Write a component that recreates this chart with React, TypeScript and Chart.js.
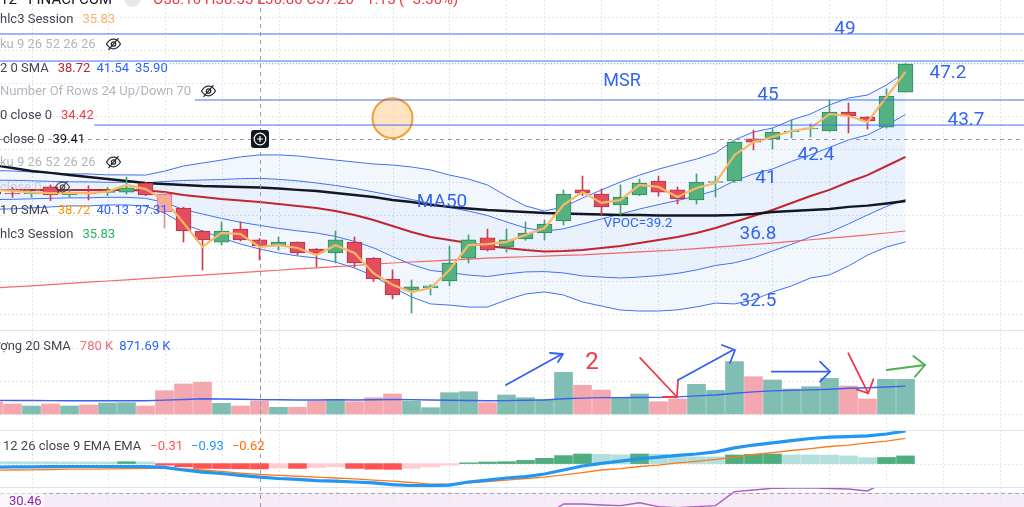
import React, { useEffect, useRef } from "react";
import { Chart, registerables } from "chart.js";

Chart.register(...registerables);

// ---------------- data (index -1 .. 47) ----------------
const firstIndex = -1;
const opens = [39.4, 39.35, 39.3, 39.73, 39.24, 39.42, 39.4, 39.42, 39.97, 39.3, 38.45, 37.06, 36.39, 37.18, 36.52, 36.15, 36.39, 35.97, 35.73, 36.39, 35.42, 34.15, 33.48, 33.61, 34.03, 35.42, 36.64, 36.09, 36.58, 36.94, 37.67, 39.55, 39.3, 38.64, 39.24, 40.09, 39.55, 38.94, 40.0, 40.09, 42.64, 42.64, 43.06, 43.24, 43.12, 44.27, 43.97, 43.36, 45.48];
const highs = [39.6, 39.7, 39.5, 39.85, 39.6, 39.8, 39.7, 40.33, 40.0, 39.4, 38.5, 37.1, 37.61, 37.61, 36.6, 36.7, 36.4, 36.0, 37.06, 36.7, 35.45, 34.7, 34.09, 33.8, 36.15, 36.82, 37.18, 37.18, 37.61, 37.73, 39.55, 40.39, 39.61, 39.85, 40.21, 40.39, 39.73, 40.52, 40.39, 42.5, 43.18, 43.3, 43.79, 43.55, 45.0, 44.82, 44.0, 45.67, 47.24];
const lows = [39.2, 39.1, 39.1, 38.9, 39.1, 38.94, 39.2, 39.3, 39.2, 37.24, 36.39, 34.7, 36.21, 36.45, 35.3, 35.9, 35.61, 34.88, 35.12, 34.88, 34.0, 32.94, 32.09, 33.18, 33.73, 35.12, 35.85, 35.79, 36.5, 36.52, 37.42, 39.2, 38.03, 38.03, 39.2, 39.18, 38.7, 38.7, 39.12, 40.0, 41.97, 42.03, 42.7, 42.76, 43.1, 43.0, 43.24, 43.3, 45.48];
const closes = [39.3, 39.3, 39.35, 39.24, 39.42, 39.3, 39.5, 39.67, 39.24, 38.21, 37.06, 36.52, 37.06, 36.52, 36.15, 36.39, 35.73, 35.73, 36.52, 35.12, 34.15, 33.18, 33.67, 33.73, 35.12, 36.52, 35.91, 36.52, 36.94, 37.48, 39.3, 39.36, 38.52, 39.12, 39.97, 39.42, 39.0, 40.03, 40.05, 42.45, 42.45, 43.06, 43.12, 43.3, 44.27, 44.03, 43.73, 45.24, 47.18];

const fastAverage = [39.55, 39.5, 39.4, 39.35, 39.35, 39.35, 39.45, 39.85, 39.6, 38.94, 37.55, 36.1, 36.94, 36.88, 36.1, 36.2, 36.03, 35.6, 36.2, 35.73, 34.5, 33.8, 33.36, 33.6, 34.7, 36.2, 36.27, 36.4, 36.82, 37.24, 38.64, 39.42, 38.76, 38.94, 39.85, 39.73, 39.12, 39.67, 39.97, 41.67, 42.45, 42.76, 43.12, 43.3, 44.15, 44.03, 43.67, 45.18, 46.7];
const ma50 = [41.05, 40.88, 40.7, 40.58, 40.45, 40.33, 40.21, 40.09, 39.97, 39.91, 39.85, 39.79, 39.76, 39.73, 39.7, 39.64, 39.55, 39.48, 39.36, 39.24, 39.12, 38.94, 38.82, 38.64, 38.52, 38.42, 38.33, 38.27, 38.21, 38.15, 38.12, 38.09, 38.06, 38.03, 38.03, 38.0, 38.0, 38.0, 38.0, 38.03, 38.09, 38.21, 38.27, 38.33, 38.39, 38.52, 38.6, 38.73, 38.88];
const bbBasis = [39.55, 39.55, 39.55, 39.55, 39.55, 39.55, 39.55, 39.55, 39.51, 39.42, 39.24, 39.12, 39.0, 38.91, 38.82, 38.7, 38.58, 38.45, 38.27, 38.03, 37.73, 37.36, 37.0, 36.7, 36.51, 36.33, 36.15, 36.03, 35.91, 35.82, 35.85, 35.91, 36.03, 36.15, 36.33, 36.51, 36.7, 36.94, 37.24, 37.61, 37.97, 38.33, 38.76, 39.18, 39.55, 40.03, 40.45, 41.0, 41.55];
const bbUpper2 = [40.72, 40.7, 40.64, 40.58, 40.52, 40.52, 40.46, 40.46, 40.45, 40.69, 41.0, 41.18, 41.36, 41.55, 41.67, 41.67, 41.61, 41.48, 41.36, 41.24, 41.12, 41.06, 40.94, 40.76, 40.45, 40.21, 39.85, 39.18, 38.58, 38.27, 38.52, 39.06, 39.55, 40.03, 40.45, 40.81, 41.12, 41.42, 41.79, 42.58, 43.06, 43.3, 43.79, 44.15, 44.7, 45.12, 45.3, 45.91, 46.7];
const bbUpper1 = [40.14, 40.13, 40.1, 40.07, 40.04, 40.04, 40.01, 40.01, 39.98, 40.06, 40.12, 40.15, 40.18, 40.23, 40.25, 40.19, 40.1, 39.97, 39.82, 39.64, 39.43, 39.21, 38.97, 38.73, 38.48, 38.27, 38.0, 37.61, 37.25, 37.05, 37.19, 37.49, 37.79, 38.09, 38.39, 38.66, 38.91, 39.18, 39.52, 40.1, 40.52, 40.82, 41.28, 41.67, 42.13, 42.58, 42.88, 43.46, 44.13];
const bbLower1 = [38.96, 38.98, 39.01, 39.04, 39.07, 39.07, 39.1, 39.1, 39.04, 38.79, 38.36, 38.09, 37.82, 37.59, 37.4, 37.22, 37.07, 36.94, 36.73, 36.43, 36.04, 35.51, 35.03, 34.67, 34.54, 34.39, 34.3, 34.46, 34.58, 34.6, 34.52, 34.34, 34.27, 34.21, 34.27, 34.36, 34.49, 34.7, 34.97, 35.13, 35.43, 35.85, 36.25, 36.7, 36.98, 37.49, 38.03, 38.55, 38.98];
const bbLower2 = [38.38, 38.4, 38.46, 38.52, 38.58, 38.58, 38.64, 38.64, 38.57, 38.15, 37.48, 37.06, 36.64, 36.27, 35.97, 35.73, 35.55, 35.42, 35.18, 34.82, 34.34, 33.66, 33.06, 32.64, 32.57, 32.45, 32.45, 32.88, 33.24, 33.37, 33.18, 32.76, 32.51, 32.27, 32.21, 32.21, 32.28, 32.46, 32.69, 32.64, 32.88, 33.36, 33.73, 34.21, 34.4, 34.94, 35.6, 36.09, 36.4];
const ma200 = [33.6, 33.67, 33.74, 33.81, 33.88, 33.96, 34.03, 34.1, 34.17, 34.25, 34.32, 34.39, 34.46, 34.54, 34.61, 34.68, 34.76, 34.83, 34.9, 34.97, 35.05, 35.12, 35.18, 35.24, 35.3, 35.36, 35.42, 35.46, 35.5, 35.54, 35.58, 35.61, 35.67, 35.73, 35.79, 35.85, 35.91, 35.99, 36.08, 36.16, 36.25, 36.33, 36.43, 36.53, 36.63, 36.72, 36.82, 36.94, 37.06];

const volumes = [745, 606, 485, 606, 485, 545, 667, 685, 485, 1412, 1818, 1921, 648, 485, 788, 406, 406, 788, 891, 745, 988, 1212, 788, 382, 1291, 1351, 685, 1151, 988, 891, 2527, 1739, 1454, 1012, 1212, 745, 909, 1800, 1436, 3169, 2260, 2060, 1515, 1654, 2163, 1697, 909, 2103, 2103];
const volumeSma = [825, 820, 815, 810, 805, 800, 800, 805, 800, 840, 880, 920, 910, 890, 872, 860, 850, 850, 860, 850, 860, 880, 870, 850, 830, 820, 800, 810, 830, 850, 920, 960, 990, 990, 1000, 1010, 1040, 1100, 1150, 1260, 1340, 1400, 1430, 1460, 1500, 1560, 1590, 1640, 1690];

const macdLine = [-0.22, -0.21, -0.2, -0.19, -0.18, -0.18, -0.18, -0.18, -0.19, -0.24, -0.4, -0.53, -0.62, -0.74, -0.84, -0.93, -0.99, -1.06, -1.09, -1.15, -1.21, -1.31, -1.37, -1.38, -1.34, -1.15, -1.03, -0.9, -0.81, -0.65, -0.4, -0.15, 0.01, 0.16, 0.29, 0.41, 0.51, 0.6, 0.73, 0.98, 1.16, 1.29, 1.44, 1.57, 1.66, 1.69, 1.73, 1.85, 2.04];
const signalLine = [-0.41, -0.4, -0.39, -0.37, -0.35, -0.34, -0.33, -0.31, -0.3, -0.29, -0.33, -0.4, -0.49, -0.59, -0.68, -0.74, -0.79, -0.84, -0.9, -0.96, -1.03, -1.09, -1.18, -1.28, -1.29, -1.21, -1.12, -1.03, -0.93, -0.84, -0.71, -0.56, -0.4, -0.31, -0.18, -0.09, 0.04, 0.14, 0.26, 0.41, 0.57, 0.69, 0.82, 0.94, 1.07, 1.16, 1.29, 1.41, 1.58];
const macdHist = [0.12, 0.12, 0.11, 0.11, 0.1, 0.1, 0.1, 0.12, 0.1, -0.1, -0.2, -0.3, -0.31, -0.32, -0.33, -0.28, -0.3, -0.25, -0.2, -0.3, -0.35, -0.36, -0.3, -0.2, -0.1, 0.05, 0.1, 0.12, 0.2, 0.33, 0.5, 0.6, 0.58, 0.55, 0.6, 0.59, 0.43, 0.43, 0.42, 0.54, 0.58, 0.6, 0.54, 0.54, 0.53, 0.48, 0.37, 0.38, 0.48];
const rsiValues = [48, 47, 48, 46, 47, 46, 48, 50, 44, 36, 31, 27, 33, 31, 30.46, 32, 30, 29, 34, 30, 27, 24, 27, 28, 38, 46, 43, 47, 50, 53, 61.8, 61.8, 61.1, 60.6, 62.7, 59.9, 59.2, 59.9, 60.6, 70.6, 71.8, 73.0, 73.2, 73.4, 72.9, 72.5, 71.1, 78, 82];

const priceLevels = [49, 47.36, 45, 43.48];
const priceLevelStarts = [-0.7, -0.7, 9.6, 4.3];
const lastPrice = 47.2;
const lastPriceStart = 8.3;
const crosshairIndex = 13;
const crosshairPrice = 42.64;
const circleMark = { x: 20, y: 43.9 };
const fadedCandle = 8;
const priceGrid = [32, 34, 36, 38, 40, 42, 44, 46, 48, 50];
const volumeGrid = [0, 2000, 4000];
const macdGrid = [0];
const timeGrid = [1, 5, 8, 11, 14, 17, 20, 23, 26, 28, 31, 34, 37, 40, 43, 46, 49, 52];
const rsiBand = [30, 70];

// hand-drawn arrows on the volume pane, in (bar index, volume K)
const volumeArrows = [
  { color: "#3461ee", shaft: [[25.97, 1757], [28.92, 3636]], head: [[28.29, 3697], [28.97, 3636], [28.71, 3151]] },
  { color: "#ee3a4b", shaft: [[33.03, 3394], [34.97, 1030]], head: [[34.24, 1030], [34.97, 1030], [35.03, 2060]] },
  { color: "#3461ee", shaft: [[35.03, 2060], [37.92, 3878]], head: [[37.34, 4181], [38.03, 3878], [37.76, 3091]] },
  { color: "#3461ee", shaft: [[39.96, 2563], [43.03, 2563]], head: [[42.5, 3169], [43.03, 2563], [42.5, 1957]] },
  { color: "#ee3a4b", shaft: [[43.99, 3678], [45.04, 1254]], head: [[44.43, 1497], [45.04, 1254], [45.31, 2103]] },
  { color: "#4caf50", shaft: [[46.01, 2666], [48.03, 2969]], head: [[47.41, 3515], [48.03, 2969], [47.5, 2260]] },
];

// ---------------- helpers ----------------
const X_MIN = -0.658;
const X_MAX = 53.237;
const xy = (arr: number[]) => arr.map((v, k) => ({ x: k + firstIndex, y: v }));
const isUp = (k: number) => closes[k] >= opens[k];
const BLUE = "#4170f2";

const decorPlugin: any = {
  id: "decor",
  beforeDatasetsDraw(chart: any, _a: any, o: any) {
    const { ctx, chartArea: a, scales } = chart;
    const x = scales.x, y = scales.y;
    ctx.save();
    if (o.band) {
      const y1 = y.getPixelForValue(o.band[1]);
      const y2 = y.getPixelForValue(o.band[0]);
      ctx.fillStyle = o.bandColor;
      ctx.fillRect(a.left, y1, a.right - a.left, y2 - y1);
    }
    ctx.strokeStyle = "#e3e5e9";
    ctx.lineWidth = 1;
    ctx.setLineDash([2, 2]);
    for (const v of o.gridX || []) {
      const px = Math.round(x.getPixelForValue(v)) + 0.5;
      ctx.beginPath(); ctx.moveTo(px, a.top); ctx.lineTo(px, a.bottom); ctx.stroke();
    }
    for (const v of o.gridY || []) {
      const py = Math.round(y.getPixelForValue(v)) + 0.5;
      ctx.beginPath(); ctx.moveTo(a.left, py); ctx.lineTo(a.right, py); ctx.stroke();
    }
    ctx.restore();
  },
  afterDatasetsDraw(chart: any, _a: any, o: any) {
    const { ctx, chartArea: a, scales } = chart;
    const x = scales.x, y = scales.y;
    ctx.save();
    if (o.dashY != null) {
      const py = Math.round(y.getPixelForValue(o.dashY)) + 0.5;
      ctx.strokeStyle = "#a3a6ae"; ctx.setLineDash([4, 3]); ctx.lineWidth = 1;
      ctx.beginPath(); ctx.moveTo(a.left, py); ctx.lineTo(a.right, py); ctx.stroke();
    }
    for (const ar of o.arrows || []) {
      ctx.strokeStyle = ar.color; ctx.lineWidth = 1.8; ctx.setLineDash([]);
      ctx.lineCap = "round"; ctx.lineJoin = "round";
      for (const pts of [ar.shaft, ar.head]) {
        ctx.beginPath();
        pts.forEach((p: number[], i: number) => {
          const px = x.getPixelForValue(p[0]), py = y.getPixelForValue(p[1]);
          if (i === 0) ctx.moveTo(px, py); else ctx.lineTo(px, py);
        });
        ctx.stroke();
      }
    }
    ctx.strokeStyle = "#9598a1"; ctx.lineWidth = 1; ctx.setLineDash([4, 4]);
    if (o.crossX != null) {
      const px = Math.round(x.getPixelForValue(o.crossX)) + 0.5;
      ctx.beginPath(); ctx.moveTo(px, a.top); ctx.lineTo(px, a.bottom); ctx.stroke();
    }
    if (o.crossY != null) {
      const py = Math.round(y.getPixelForValue(o.crossY)) + 0.5;
      ctx.beginPath(); ctx.moveTo(a.left, py); ctx.lineTo(a.right, py); ctx.stroke();
    }
    ctx.restore();
  },
};

function baseOptions(yMin: number, yMax: number, decor: any): any {
  return {
    animation: false,
    responsive: true,
    maintainAspectRatio: false,
    events: [],
    layout: { padding: 0, autoPadding: false },
    elements: { point: { radius: 0, hoverRadius: 0 }, line: { tension: 0 } },
    plugins: { legend: { display: false }, tooltip: { enabled: false }, decor },
    scales: {
      x: { type: "linear", min: X_MIN, max: X_MAX, display: false, offset: false, grid: { offset: false } },
      y: { type: "linear", min: yMin, max: yMax, display: false, offset: false, grace: 0 },
    },
  };
}

function lineDs(data: number[], color: string, width: number, order: number, extra: any = {}) {
  return { type: "line", data: xy(data), borderColor: color, borderWidth: width, pointRadius: 0, order, ...extra };
}

const EyeOff = ({ ml = 9, color = "#2a2e39", opacity = 1 }: any) => (
  <svg width="17" height="14" viewBox="0 0 17 14" style={{ marginLeft: ml, opacity }}>
    <path d="M1.5 7c2-3.3 4.3-4.8 7-4.8s5 1.5 7 4.8c-2 3.3-4.3 4.8-7 4.8S3.5 10.3 1.5 7z" fill="none" stroke={color} strokeWidth="1.3" />
    <circle cx="8.5" cy="7" r="2.2" fill="none" stroke={color} strokeWidth="1.3" />
    <path d="M3.5 12.8L13.5 1.2" stroke={color} strokeWidth="1.3" />
  </svg>
);

const Row = ({ y, left = 0, children }: any) => (
  <div style={{ position: "absolute", left, top: y - 9, height: 18, display: "flex", alignItems: "center", fontSize: 13, whiteSpace: "nowrap", lineHeight: "18px" }}>{children}</div>
);
const S = ({ c, ml = 0, children }: any) => <span style={{ color: c, marginLeft: ml }}>{children}</span>;
const Note = ({ x, y, size = 19, color = "#3565f0", children }: any) => (
  <div style={{ position: "absolute", left: x, top: y, transform: "translate(-50%, -50%)", fontSize: size, lineHeight: 1, color, whiteSpace: "nowrap" }}>{children}</div>
);

const DARK = "#434651";
const FADED = "#b2b5be";

export default function App() {
  const mainRef = useRef<HTMLCanvasElement>(null);
  const volRef = useRef<HTMLCanvasElement>(null);
  const macdRef = useRef<HTMLCanvasElement>(null);
  const rsiRef = useRef<HTMLCanvasElement>(null);

  useEffect(() => {
    const bodyColors = opens.map((_, k) => (k + firstIndex === fadedCandle ? "#f3a8b1" : isUp(k) ? "#54b280" : "#e34d5e"));
    const bodyBorders = opens.map((_, k) => (k + firstIndex === fadedCandle ? "#d9707d" : isUp(k) ? "#2f8b59" : "#b9323f"));
    const wickColors = opens.map((_, k) => (k + firstIndex === fadedCandle ? "#e4919b" : isUp(k) ? "#47a06f" : "#cc3e4e"));
    const bodies = opens.map((o, k) => ({ x: k + firstIndex, y: [o, closes[k]] }));
    const wicks = lows.map((l, k) => ({ x: k + firstIndex, y: [l, highs[k]] }));

    const mainDatasets: any[] = [
      ...priceLevels.map((v, k) => ({
        type: "line", data: [{ x: priceLevelStarts[k], y: v }, { x: X_MAX + 1, y: v }],
        borderColor: BLUE, borderWidth: 1, pointRadius: 0, order: 0,
      })),
      { type: "line", data: [{ x: lastPriceStart, y: lastPrice }, { x: X_MAX + 1, y: lastPrice }], borderColor: "#43b077", borderDash: [1, 2], borderWidth: 1, pointRadius: 0, order: 0 },
      { type: "line", data: [circleMark], showLine: false, pointRadius: 20, pointBackgroundColor: "rgba(252,196,122,0.45)", pointBorderColor: "#f59d2e", pointBorderWidth: 2, order: 0 },
      lineDs(fastAverage, "#f8b866", 2.2, 1),
      { type: "bar", data: bodies, backgroundColor: bodyColors, borderColor: bodyBorders, borderWidth: 1, borderSkipped: false, barThickness: 15, grouped: false, order: 2 },
      { type: "bar", data: wicks, backgroundColor: wickColors, barThickness: 1, grouped: false, order: 3 },
      lineDs(ma50, "#131722", 2.4, 4),
      lineDs(bbBasis, "#c0262e", 2, 5),
      lineDs(ma200, "rgba(242,80,80,0.85)", 1.2, 6),
      lineDs(bbUpper2, BLUE, 1, 7, { fill: { target: "+3", above: "rgba(70,145,235,0.07)", below: "rgba(70,145,235,0.07)" } }),
      lineDs(bbUpper1, BLUE, 1, 7, { fill: { target: "+1", above: "rgba(70,145,235,0.05)", below: "rgba(70,145,235,0.05)" } }),
      lineDs(bbLower1, BLUE, 1, 7),
      lineDs(bbLower2, BLUE, 1, 7),
    ];

    const main = new Chart(mainRef.current!, {
      type: "bar",
      data: { datasets: mainDatasets },
      options: baseOptions(31.06, 51.06, { gridX: timeGrid, gridY: priceGrid, crossX: crosshairIndex, crossY: crosshairPrice }),
      plugins: [decorPlugin],
    } as any);

    const volColors = volumes.map((_, k) => (isUp(k) ? "#80bdb3" : "#f4a7ae"));
    const vol = new Chart(volRef.current!, {
      type: "bar",
      data: {
        datasets: [
          lineDs(volumeSma, "#3a62ee", 1.4, 0),
          { type: "bar", data: xy(volumes), backgroundColor: volColors, barThickness: 18, grouped: false, order: 1 },
        ] as any,
      },
      options: baseOptions(-970, 5090, { gridX: timeGrid, gridY: volumeGrid, crossX: crosshairIndex, arrows: volumeArrows }),
      plugins: [decorPlugin],
    } as any);

    const histColors = macdHist.map((v, k) => {
      const prev = k > 0 ? macdHist[k - 1] : v;
      if (v >= 0) return v > prev ? "#4fae7f" : "#b2dfdb";
      return v < prev ? "#ff5252" : "#ffcdd2";
    });
    const macd = new Chart(macdRef.current!, {
      type: "bar",
      data: {
        datasets: [
          lineDs(macdLine, "#2196f3", 3.2, 0),
          lineDs(signalLine, "#ff7a1a", 1.3, 1),
          { type: "bar", data: xy(macdHist), backgroundColor: histColors, barThickness: 18, grouped: false, order: 2 },
        ] as any,
      },
      options: baseOptions(-1.4625, 2.1, { gridX: timeGrid, gridY: macdGrid, crossX: crosshairIndex }),
      plugins: [decorPlugin],
    } as any);

    const rsi = new Chart(rsiRef.current!, {
      type: "line",
      data: { datasets: [lineDs(rsiValues, "#ab5cc5", 1.4, 0)] as any },
      options: baseOptions(2.5, 73.93, { gridX: timeGrid, band: rsiBand, bandColor: "rgba(156,39,176,0.09)", dashY: rsiBand[1], crossX: crosshairIndex }),
      plugins: [decorPlugin],
    } as any);

    return () => { main.destroy(); vol.destroy(); macd.destroy(); rsi.destroy(); };
  }, []);

  const pane = (top: number, h: number): React.CSSProperties => ({ position: "absolute", left: 0, top, width: 1024, height: h });
  const sep = (top: number): React.CSSProperties => ({ position: "absolute", left: 0, top, width: 1024, height: 1, background: "#e0e3eb" });

  return (
    <div style={{ position: "fixed", left: 0, top: 0, width: 1024, height: 507, overflow: "hidden", background: "#fff", fontFamily: "Roboto, 'Noto Sans', sans-serif" }}>
      <div style={pane(0, 330)}><canvas ref={mainRef} /></div>
      <div style={pane(330, 100)}><canvas ref={volRef} /></div>
      <div style={pane(430, 57)}><canvas ref={macdRef} /></div>
      <div style={pane(487, 100)}><canvas ref={rsiRef} /></div>
      <div style={sep(330)} />
      <div style={sep(430)} />
      <div style={sep(487)} />

      {/* top title (cut off) */}
      <div style={{ position: "absolute", left: 0, top: -10, fontSize: 15, lineHeight: "16px", whiteSpace: "nowrap", display: "flex", alignItems: "center" }}>
        <span style={{ color: "#131722" }}>12 · FINACI·COM</span>
        <span style={{ display: "inline-block", width: 17, height: 17, borderRadius: 9, background: "#e6e8ec", marginLeft: 12 }} />
        <span style={{ color: "#f23645", marginLeft: 12 }}>O38.10 H38.55 L36.80 C37.20 −1.15 (−3.36%)</span>
      </div>

      {/* main pane legend */}
      <Row y={19}><S c={DARK}>hlc3 Session</S><S c="#f6b26b" ml={9}>35.83</S></Row>
      <Row y={44}><S c={FADED}>ku 9 26 52 26 26</S><EyeOff /></Row>
      <Row y={68}><S c={DARK}>2 0 SMA</S><S c="#b2282e" ml={9}>38.72</S><S c="#2962ff" ml={6}>41.54</S><S c="#2962ff" ml={6}>35.90</S></Row>
      <Row y={91}><S c={FADED}>Number Of Rows 24 Up/Down 70</S><EyeOff /></Row>
      <Row y={115}><S c={DARK}>0 close 0</S><S c="#f23645" ml={9}>34.42</S></Row>
      <Row y={139} left={3}><S c={DARK}>close 0</S><S c="#131722" ml={8}>39.41</S></Row>
      <Row y={162}><S c={FADED}>ku 9 26 52 26 26</S><EyeOff /></Row>
      <Row y={187}><S c="rgba(178,181,190,0.6)">close 0</S><EyeOff ml={12} opacity={0.8} /></Row>
      <Row y={210}><S c={DARK}>1 0 SMA</S><S c="#ff9800" ml={9}>38.72</S><S c="#2962ff" ml={6}>40.13</S><S c="#2962ff" ml={6}>37.31</S></Row>
      <Row y={234}><S c={DARK}>hlc3 Session</S><S c="#22b866" ml={9}>35.83</S></Row>

      {/* chart annotations */}
      <Note x={845} y={27}>49</Note>
      <Note x={948} y={71}>47.2</Note>
      <Note x={622} y={80} size={18}>MSR</Note>
      <Note x={768} y={93}>45</Note>
      <Note x={966} y={118}>43.7</Note>
      <Note x={816} y={153}>42.4</Note>
      <Note x={766} y={176}>41</Note>
      <Note x={442} y={200}>MA50</Note>
      <Note x={638} y={223} size={13.5}>VPOC=39.2</Note>
      <Note x={758} y={232}>36.8</Note>
      <Note x={758} y={299}>32.5</Note>

      {/* crosshair button */}
      <div style={{ position: "absolute", left: 251, top: 130, width: 18, height: 18, borderRadius: 3, background: "#131722", display: "flex", alignItems: "center", justifyContent: "center" }}>
        <svg width="14" height="14" viewBox="0 0 14 14">
          <circle cx="7" cy="7" r="5.8" fill="none" stroke="#fff" strokeWidth="1.2" />
          <path d="M7 4v6M4 7h6" stroke="#fff" strokeWidth="1.2" />
        </svg>
      </div>

      {/* volume pane */}
      <Row y={346} left={-11}><S c={DARK}>lượng 20 SMA</S><S c="#f06d7a" ml={9}>780 K</S><S c="#2962ff" ml={6}>871.69 K</S></Row>
      <Note x={592} y={361} size={24} color="#ee3a4b">2</Note>

      {/* MACD pane */}
      <Row y={446} left={3}><S c={DARK}>12 26 close 9 EMA EMA</S><S c="#ff5252" ml={9}>−0.31</S><S c="#2196f3" ml={8}>−0.93</S><S c="#ff6d00" ml={8}>−0.62</S></Row>

      {/* RSI pane */}
      <div style={{ position: "absolute", left: 0, top: 492, width: 44, height: 16, background: "rgba(255,255,255,0.55)" }} />
      <Row y={501} left={9}><S c="#8e24aa">30.46</S></Row>
    </div>
  );
}
